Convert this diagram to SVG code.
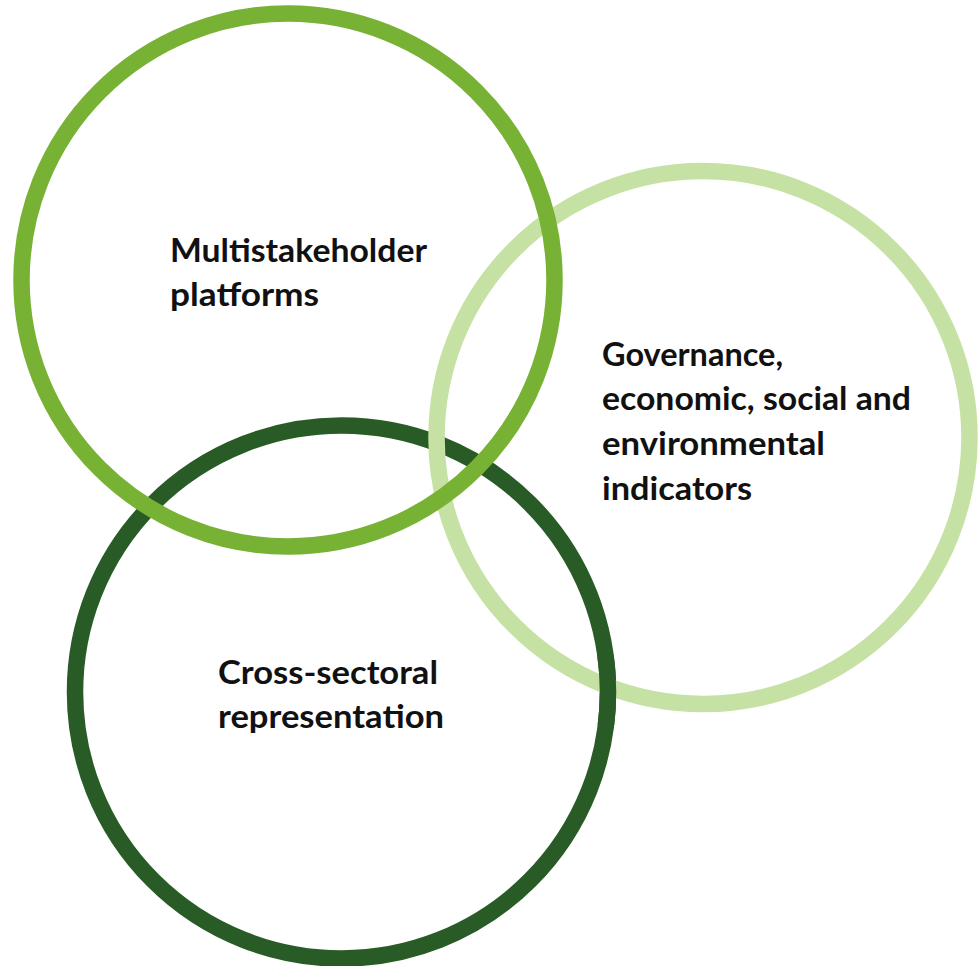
<svg xmlns="http://www.w3.org/2000/svg" width="980" height="966" viewBox="0 0 980 966">
<style>
.ring{fill:none;stroke-width:16.5}
.lbl{font-family:Lato,"Open Sans","Liberation Sans",sans-serif;font-weight:bold;font-size:32px;fill:#111}
</style>
<defs>
<clipPath id="cr"><rect x="570" y="655" width="60" height="70"/></clipPath>
</defs>
<rect width="980" height="966" fill="#fff"/>
<g id="c3">
<circle class="ring" cx="341.5" cy="692" r="266.5" stroke="#285b26"/>
</g>
<g id="c2">
<circle class="ring" cx="703" cy="437.5" r="266.5" stroke="#c5e2a4"/>
</g>
<g id="c3-over">
<circle class="ring" cx="341.5" cy="692" r="266.5" stroke="#285b26" clip-path="url(#cr)"/>
</g>
<g id="c1">
<circle class="ring" cx="288" cy="280" r="266.5" stroke="#77b235"/>
</g>
<g id="t1">
<text class="lbl" x="170" y="262" textLength="257" lengthAdjust="spacingAndGlyphs">Multistakeholder</text>
<text class="lbl" x="170" y="306" textLength="149" lengthAdjust="spacingAndGlyphs">platforms</text>
</g>
<g id="t2">
<text class="lbl" x="602" y="366" textLength="181" lengthAdjust="spacingAndGlyphs">Governance,</text>
<text class="lbl" x="602" y="410" textLength="309" lengthAdjust="spacingAndGlyphs">economic, social and</text>
<text class="lbl" x="602" y="455" textLength="223" lengthAdjust="spacingAndGlyphs">environmental</text>
<text class="lbl" x="602" y="500" textLength="150" lengthAdjust="spacingAndGlyphs">indicators</text>
</g>
<g id="t3">
<text class="lbl" x="218" y="684" textLength="220" lengthAdjust="spacingAndGlyphs">Cross-sectoral</text>
<text class="lbl" x="218" y="728" textLength="226" lengthAdjust="spacingAndGlyphs">representation</text>
</g>
</svg>
